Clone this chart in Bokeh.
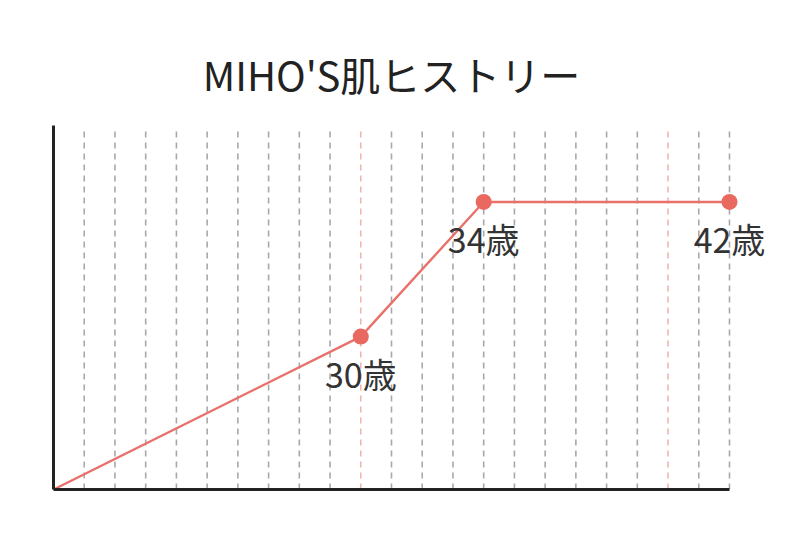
from bokeh.plotting import figure
from bokeh.models import ColumnDataSource, LinearAxis, Range1d, FixedTicker
from bokeh.core.properties import value
from bokeh.embed import file_html
from bokeh.resources import INLINE

# ---- data ----
title_text = "MIHO'S肌ヒストリー"
ages = [20, 30, 34, 42]
levels = [0, 42, 79, 79]
point_ages = [30, 34, 42]
point_levels = [42, 79, 79]
point_labels = ["30歳", "34歳", "42歳"]
gray_years = [21, 22, 23, 24, 25, 26, 27, 28, 29, 31, 32, 33, 34, 35, 36, 37, 38, 39, 41, 42]
pink_years = [30, 40]
age_min, age_max = 20, 42
level_min, level_max = 0, 100

FONT = "Noto Sans CJK JP"
W, H = 784, 518
left, right_b, bottom = 53, 2, 29
px_per_year = 676 / 22.0
px_per_level = 364 / 100.0
frame_w = W - left - right_b
frame_h = H - bottom

p = figure(width=W, height=H, output_backend="svg", toolbar_location=None,
           x_axis_type=None, y_axis_type=None,
           x_range=Range1d(age_min, age_min + frame_w / px_per_year),
           y_range=Range1d(level_min, level_min + frame_h / px_per_level),
           min_border_left=left, min_border_right=right_b,
           min_border_bottom=bottom, min_border_top=0)
p.outline_line_color = None
p.background_fill_color = "white"
p.border_fill_color = "white"
p.xgrid.visible = False
p.ygrid.visible = False

# axes (lines only)
for side in ("below", "left"):
    ax = LinearAxis(ticker=FixedTicker(ticks=[]), major_tick_line_color=None,
                    minor_tick_line_color=None, axis_line_color="#222222",
                    axis_line_width=3)
    ax.bounds = (age_min, age_max) if side == "below" else (level_min, level_max)
    p.add_layout(ax, side)

grid_top = 99.5
p.segment(x0=gray_years, y0=[level_min] * len(gray_years), x1=gray_years,
          y1=[grid_top] * len(gray_years), line_color="#a8a8a8", line_width=1.6,
          line_dash="6 5")
p.segment(x0=pink_years, y0=[level_min] * len(pink_years), x1=pink_years,
          y1=[grid_top] * len(pink_years), line_color="#f2b4b0", line_width=1.6,
          line_dash="6 5")

p.line(ages, levels, line_color="#e9716a", line_width=2.4)
src = ColumnDataSource(dict(x=point_ages, y=point_levels, t=point_labels))
p.scatter("x", "y", source=src, size=16, fill_color="#e9685f", line_color=None)
p.text("x", "y", text="t", source=src, text_font=value(FONT), text_font_size="34px",
       text_color="#333333", text_align="center", text_baseline="middle", y_offset=37)

# title
tx = age_min + (391 - 53) / px_per_year
ty = level_min + (489 - 73) / px_per_level
p.text(x=[tx], y=[ty], text=[title_text], text_font=value(FONT), text_font_size="40px",
       text_color="#222222", text_align="center", text_baseline="middle")

open("out.html", "w").write(file_html(p, INLINE))
